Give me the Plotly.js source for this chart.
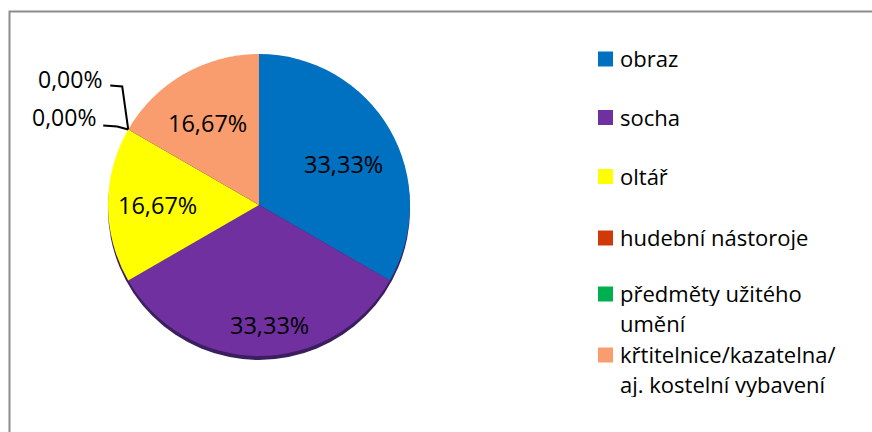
<!DOCTYPE html>
<html>
<head>
<meta charset="utf-8">
<script src="https://cdn.plot.ly/plotly-3.0.1.min.js"></script>
<style>html,body{margin:0;padding:0;background:#fff}#chart{width:872px;height:432px}</style>
</head>
<body>
<div id="chart"></div>
<script>
// ---- data ----
const categories = ['obraz', 'socha', 'oltář', 'hudební nástoroje', 'předměty užitého umění', 'křtitelnice/kazatelna/aj. kostelní vybavení'];
const values = [2, 2, 1, 0, 0, 1];
const legendLines = [['obraz'], ['socha'], ['oltář'], ['hudební nástoroje'], ['předměty užitého', 'umění'], ['křtitelnice/kazatelna/', 'aj. kostelní vybavení']];
const colors = ['#0070C0', '#7030A0', '#FFFF00', '#D03A0A', '#00B050', '#F99C6E'];

// ---- layout helpers (pixels -> paper) ----
const W = 872, H = 432;
const px = x => x / W;
const py = y => 1 - y / H;
const CX = 259, CY = 205, R = 151;
const FONT = 'Open Sans, Lato, sans-serif';
// label placement inside slices: radius fraction and angle tweak (degrees)
const labelPlace = [{r: 0.62, da: 4}, {r: 0.8, da: -5}, {r: 0.67, da: 0}, null, null, {r: 0.64, da: -2}];

const total = values.reduce((a, b) => a + b, 0);
const pctText = values.map(v => (v / total * 100).toFixed(2).replace('.', ',') + '%');

const trace = {
  type: 'pie',
  labels: categories,
  values: values,
  sort: false,
  direction: 'clockwise',
  rotation: 0,
  textinfo: 'none',
  marker: {colors: colors, line: {width: 0}},
  hoverinfo: 'label+percent',
  domain: {x: [px(CX - R), px(CX + R)], y: [py(CY + R), py(CY - R)]},
  showlegend: false
};

const shapes = [];
const annotations = [];

// frame
shapes.push({type: 'rect', xref: 'paper', yref: 'paper', x0: px(9.5), x1: px(900), y0: py(11.5), y1: py(460),
  line: {color: '#8C8C8C', width: 2}, fillcolor: 'rgba(0,0,0,0)', layer: 'below'});
// 3D rim shadow
shapes.push({type: 'circle', xref: 'paper', yref: 'paper', x0: px(CX - R), x1: px(CX + R), y0: py(CY + R + 4), y1: py(CY - R + 4),
  line: {width: 0}, fillcolor: '#3B1E5E', layer: 'below'});

// slice labels + zero-value labels with leader lines
let cum = 0;
const zeroOffsets = [
  {tx: -24, ty: -51, path: [[-18, -44], [-6, -43]]},
  {tx: -30, ty: -12, path: [[-25, -4], [-11, -3]]}
];
let zi = 0;
values.forEach((v, i) => {
  if (v > 0 && labelPlace[i]) {
    const mid = (cum + v / 2) / total * 360 + labelPlace[i].da;
    const a = mid * Math.PI / 180, rr = R * labelPlace[i].r;
    annotations.push({xref: 'paper', yref: 'paper', x: px(CX + rr * Math.sin(a)), y: py(CY - rr * Math.cos(a)),
      xanchor: 'center', yanchor: 'middle', text: pctText[i], showarrow: false,
      font: {family: FONT, size: 23.5, color: '#000'}});
  }
  if (v === 0 && zi < zeroOffsets.length) {
    const th = cum / total * 2 * Math.PI;
    const ax = CX + R * Math.sin(th), ay = CY - R * Math.cos(th);
    const o = zeroOffsets[zi++];
    annotations.push({xref: 'paper', yref: 'paper', x: px(ax + o.tx), y: py(ay + o.ty), xanchor: 'right', yanchor: 'middle',
      text: pctText[i], showarrow: false, font: {family: FONT, size: 23, color: '#000'}});
    const pts = o.path.map(p => [ax + p[0], ay + p[1]]).concat([[ax, ay]]);
    const d = pts.map((p, k) => (k ? 'L' : 'M') + px(p[0]) + ',' + py(p[1])).join(' ');
    shapes.push({type: 'path', xref: 'paper', yref: 'paper', path: d, line: {color: '#000', width: 2}});
  }
  cum += v;
});

// manual legend
const legendY = [59, 117.5, 176.5, 238, 294, 355];
const lineGap = 30;
legendLines.forEach((lines, i) => {
  const y = legendY[i];
  shapes.push({type: 'rect', xref: 'paper', yref: 'paper', x0: px(598), x1: px(613), y0: py(y + 7.5), y1: py(y - 7.5),
    line: {width: 0}, fillcolor: colors[i]});
  lines.forEach((t, k) => {
    annotations.push({xref: 'paper', yref: 'paper', x: px(618), y: py(y + k * lineGap - 1), xanchor: 'left', yanchor: 'middle',
      height: 26, text: t, showarrow: false, font: {family: FONT, size: 22, color: '#000'}});
  });
});

const layout = {
  width: W, height: H,
  margin: {l: 0, r: 0, t: 0, b: 0},
  paper_bgcolor: '#fff',
  showlegend: false,
  shapes: shapes,
  annotations: annotations
};

Plotly.newPlot('chart', [trace], layout, {displayModeBar: false, staticPlot: true});
</script>
</body>
</html>
